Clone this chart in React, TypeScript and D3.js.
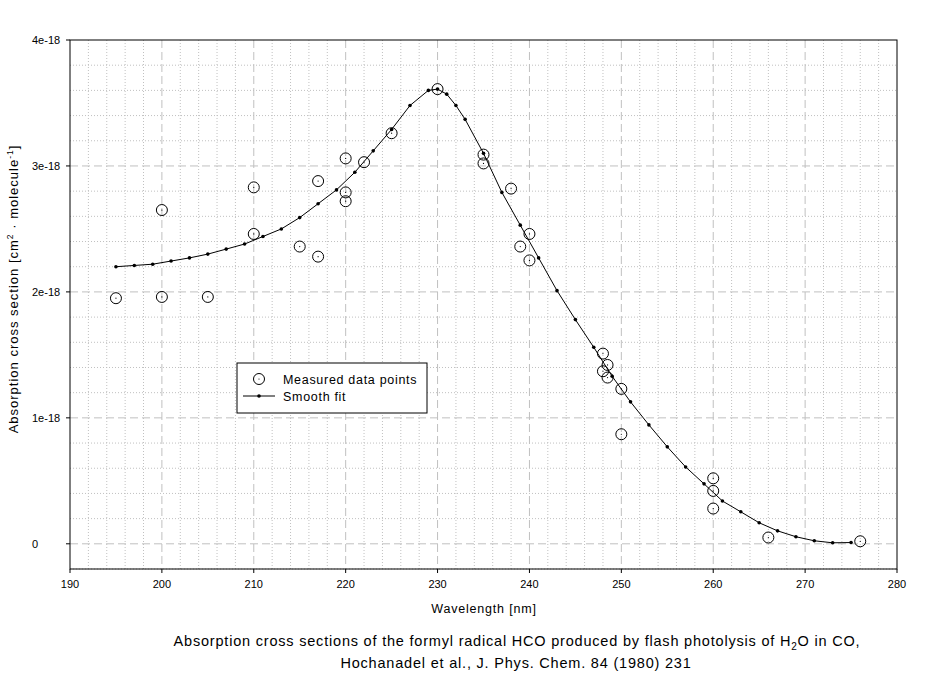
import * as d3 from 'd3';

// measured data points (wavelength nm, cross section in 1e-18 cm2/molecule)
const measuredX = [195, 200, 200, 205, 210, 210, 215, 217, 217, 220, 220, 220, 222, 225, 230, 235, 235, 238, 239, 240, 240, 248, 248.5, 248, 248.5, 250, 250, 260, 260, 260, 266, 276];
const measuredY = [1.95, 2.65, 1.96, 1.96, 2.83, 2.46, 2.36, 2.88, 2.28, 3.06, 2.79, 2.72, 3.03, 3.26, 3.61, 3.09, 3.02, 2.82, 2.36, 2.46, 2.25, 1.51, 1.42, 1.37, 1.32, 1.23, 0.87, 0.52, 0.42, 0.28, 0.05, 0.02];

// smooth fit
const fitX = [195, 197, 199, 201, 203, 205, 207, 209, 211, 213, 215, 217, 219, 221, 223, 225, 227, 229, 230, 231, 232, 233, 235, 237, 239, 241, 243, 245, 247, 249, 251, 253, 255, 257, 259, 261, 263, 265, 267, 269, 271, 273, 275];
const fitY = [2.2, 2.21, 2.22, 2.245, 2.27, 2.3, 2.34, 2.38, 2.44, 2.5, 2.59, 2.7, 2.81, 2.95, 3.12, 3.29, 3.48, 3.6, 3.61, 3.57, 3.48, 3.37, 3.1, 2.79, 2.53, 2.27, 2.01, 1.78, 1.56, 1.33, 1.127, 0.944, 0.77, 0.61, 0.476, 0.34, 0.254, 0.167, 0.103, 0.056, 0.024, 0.008, 0.01];

const xTicks = [190, 200, 210, 220, 230, 240, 250, 260, 270, 280];
const yTicks = [0, 1, 2, 3, 4];
const yTickLabels = ['0', '1e-18', '2e-18', '3e-18', '4e-18'];

const font = "'Liberation Sans', Arial, sans-serif";

export default function App() {
  const left = 70, right = 897, top = 40, bottom = 569;
  const x = d3.scaleLinear().domain([190, 280]).range([left, right]);
  const y = d3.scaleLinear().domain([-0.2, 4]).range([bottom, top]);

  const minorX = d3.range(190, 280.01, 2).filter((v) => v % 10 !== 0);
  const majorX = d3.range(200, 280, 10);
  const minorY = d3.range(-0.2, 4.01, 0.2).map((v) => Math.round(v * 10) / 10).filter((v) => Math.abs(v - Math.round(v)) > 0.01);
  const majorY = [0, 1, 2, 3];

  const fit = fitX.map((v, i) => [v, fitY[i]] as [number, number]);
  const line = d3.line<[number, number]>().x((d) => x(d[0])).y((d) => y(d[1]));

  const grid = '#c0c0c0';

  return (
    <svg width={937} height={676} style={{ position: 'absolute', left: 0, top: 0, background: '#fff' }} fontFamily={font}>
      <rect x={0} y={0} width={937} height={676} fill="#fff" />
      {/* grid */}
      {minorX.map((v) => (
        <line key={'mx' + v} x1={x(v)} x2={x(v)} y1={top} y2={bottom} stroke={grid} strokeDasharray="1,2" />
      ))}
      {minorY.map((v) => (
        <line key={'my' + v} x1={left} x2={right} y1={y(v)} y2={y(v)} stroke={grid} strokeDasharray="1,2" />
      ))}
      {majorX.map((v) => (
        <line key={'Mx' + v} x1={x(v)} x2={x(v)} y1={top} y2={bottom} stroke={grid} strokeDasharray="8,4" />
      ))}
      {majorY.map((v) => (
        <line key={'My' + v} x1={left} x2={right} y1={y(v)} y2={y(v)} stroke={grid} strokeDasharray="8,4" />
      ))}

      {/* frame */}
      <rect x={left} y={top} width={right - left} height={bottom - top} fill="none" stroke="#000" />

      {/* x axis */}
      {xTicks.map((v) => (
        <g key={'xt' + v}>
          <line x1={x(v)} x2={x(v)} y1={bottom} y2={bottom + 4} stroke="#000" />
          <text x={x(v)} y={bottom + 19} fontSize={11} textAnchor="middle">{v}</text>
        </g>
      ))}
      {/* y axis */}
      {yTicks.map((v, i) => (
        <g key={'yt' + v}>
          <line x1={left - 4} x2={left} y1={y(v)} y2={y(v)} stroke="#000" />
          <text x={32} y={y(v) + 4} fontSize={11}>{yTickLabels[i]}</text>
        </g>
      ))}

      <text x={484} y={613} fontSize={12.5} letterSpacing={0.8} textAnchor="middle">Wavelength [nm]</text>
      <text transform="translate(18,289) rotate(-90)" fontSize={13} letterSpacing={1} textAnchor="middle">
        Absorption cross section [cm<tspan fontSize={8.5} dy={-5}>2</tspan>
        <tspan dy={5}> · molecule</tspan>
        <tspan fontSize={8.5} dy={-5}>-1</tspan>
        <tspan dy={5}>]</tspan>
      </text>

      {/* smooth fit */}
      <path d={line(fit) ?? ''} fill="none" stroke="#000" strokeWidth={1} />
      {fit.map((d, i) => (
        <circle key={'f' + i} cx={x(d[0])} cy={y(d[1])} r={1.8} fill="#000" />
      ))}

      {/* measured */}
      {measuredX.map((v, i) => (
        <g key={'m' + i}>
          <circle cx={x(v)} cy={y(measuredY[i])} r={5.5} fill="none" stroke="#000" />
          <circle cx={x(v)} cy={y(measuredY[i])} r={0.6} fill="#000" />
        </g>
      ))}

      {/* legend */}
      <rect x={237} y={363} width={190} height={50} fill="#fff" stroke="#000" />
      <circle cx={259} cy={379} r={5.5} fill="none" stroke="#000" />
      <circle cx={259} cy={379} r={0.6} fill="#000" />
      <text x={283} y={384} fontSize={12.5} letterSpacing={0.7}>Measured data points</text>
      <line x1={243} x2={275} y1={396} y2={396} stroke="#000" />
      <circle cx={259} cy={396} r={1.8} fill="#000" />
      <text x={283} y={401} fontSize={12.5} letterSpacing={0.7}>Smooth fit</text>

      {/* caption */}
      <text x={517} y={646} fontSize={14.5} letterSpacing={0.8} textAnchor="middle">
        Absorption cross sections of the formyl radical HCO produced by flash photolysis of H
        <tspan fontSize={10} dy={4}>2</tspan>
        <tspan dy={-4}>O in CO,</tspan>
      </text>
      <text x={516} y={668} fontSize={14.5} letterSpacing={0.8} textAnchor="middle">Hochanadel et al., J. Phys. Chem. 84 (1980) 231</text>
    </svg>
  );
}
